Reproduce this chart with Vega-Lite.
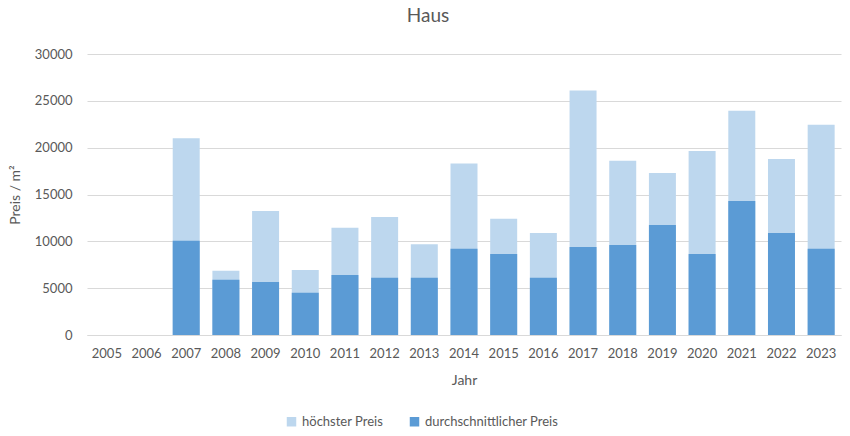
{
  "$schema": "https://vega.github.io/schema/vega-lite/v6.json",
  "width": 754,
  "height": 281,
  "autosize": {"type": "none"},
  "padding": {"left": 87, "top": 54, "right": 9, "bottom": 101},
  "background": "white",
  "config": {
    "font": "Lato, Open Sans, sans-serif",
    "view": {"stroke": null}
  },
  "title": {
    "text": "Haus",
    "fontSize": 19,
    "fontWeight": "normal",
    "color": "#595959",
    "offset": 22,
    "dx": -36
  },
  "data": {
    "values": [
      {"Jahr": "2007", "Serie": "höchster Preis", "Preis": 21000},
      {"Jahr": "2008", "Serie": "höchster Preis", "Preis": 6850},
      {"Jahr": "2009", "Serie": "höchster Preis", "Preis": 13250},
      {"Jahr": "2010", "Serie": "höchster Preis", "Preis": 6950},
      {"Jahr": "2011", "Serie": "höchster Preis", "Preis": 11450},
      {"Jahr": "2012", "Serie": "höchster Preis", "Preis": 12600},
      {"Jahr": "2013", "Serie": "höchster Preis", "Preis": 9700},
      {"Jahr": "2014", "Serie": "höchster Preis", "Preis": 18300},
      {"Jahr": "2015", "Serie": "höchster Preis", "Preis": 12400},
      {"Jahr": "2016", "Serie": "höchster Preis", "Preis": 10900},
      {"Jahr": "2017", "Serie": "höchster Preis", "Preis": 26100},
      {"Jahr": "2018", "Serie": "höchster Preis", "Preis": 18600},
      {"Jahr": "2019", "Serie": "höchster Preis", "Preis": 17300},
      {"Jahr": "2020", "Serie": "höchster Preis", "Preis": 19650},
      {"Jahr": "2021", "Serie": "höchster Preis", "Preis": 23950},
      {"Jahr": "2022", "Serie": "höchster Preis", "Preis": 18800},
      {"Jahr": "2023", "Serie": "höchster Preis", "Preis": 22450},
      {"Jahr": "2007", "Serie": "durchschnittlicher Preis", "Preis": 10050},
      {"Jahr": "2008", "Serie": "durchschnittlicher Preis", "Preis": 5900},
      {"Jahr": "2009", "Serie": "durchschnittlicher Preis", "Preis": 5650},
      {"Jahr": "2010", "Serie": "durchschnittlicher Preis", "Preis": 4500},
      {"Jahr": "2011", "Serie": "durchschnittlicher Preis", "Preis": 6400},
      {"Jahr": "2012", "Serie": "durchschnittlicher Preis", "Preis": 6100},
      {"Jahr": "2013", "Serie": "durchschnittlicher Preis", "Preis": 6100},
      {"Jahr": "2014", "Serie": "durchschnittlicher Preis", "Preis": 9200},
      {"Jahr": "2015", "Serie": "durchschnittlicher Preis", "Preis": 8650},
      {"Jahr": "2016", "Serie": "durchschnittlicher Preis", "Preis": 6100},
      {"Jahr": "2017", "Serie": "durchschnittlicher Preis", "Preis": 9400},
      {"Jahr": "2018", "Serie": "durchschnittlicher Preis", "Preis": 9600},
      {"Jahr": "2019", "Serie": "durchschnittlicher Preis", "Preis": 11750},
      {"Jahr": "2020", "Serie": "durchschnittlicher Preis", "Preis": 8650},
      {"Jahr": "2021", "Serie": "durchschnittlicher Preis", "Preis": 14300},
      {"Jahr": "2022", "Serie": "durchschnittlicher Preis", "Preis": 10900},
      {"Jahr": "2023", "Serie": "durchschnittlicher Preis", "Preis": 9200}
    ]
  },
  "mark": {"type": "bar"},
  "encoding": {
    "x": {
      "field": "Jahr",
      "type": "ordinal",
      "scale": {
        "domain": ["2005","2006","2007","2008","2009","2010","2011","2012","2013","2014","2015","2016","2017","2018","2019","2020","2021","2022","2023"],
        "paddingInner": 0.32,
        "paddingOuter": 0.16
      },
      "axis": {
        "title": "Jahr",
        "labelAngle": 0,
        "labelFontSize": 13,
        "labelColor": "#595959",
        "labelPadding": 12,
        "ticks": false,
        "domain": true,
        "domainColor": "#d9d9d9",
        "titleFontSize": 14,
        "titleFontWeight": "normal",
        "titleColor": "#595959",
        "titlePadding": 13
      }
    },
    "y": {
      "field": "Preis",
      "type": "quantitative",
      "stack": null,
      "scale": {"domain": [0, 30000]},
      "axis": {
        "title": "Preis / m²",
        "values": [0, 5000, 10000, 15000, 20000, 25000, 30000],
        "format": "d",
        "labelFontSize": 13,
        "labelColor": "#595959",
        "labelPadding": 15,
        "ticks": false,
        "domain": false,
        "gridColor": "#d9d9d9",
        "titleFontSize": 14,
        "titleFontWeight": "normal",
        "titleColor": "#595959",
        "titlePadding": 12
      }
    },
    "color": {
      "field": "Serie",
      "type": "nominal",
      "scale": {
        "domain": ["höchster Preis", "durchschnittlicher Preis"],
        "range": ["#BDD7EE", "#5B9BD5"]
      },
      "legend": {
        "title": null,
        "orient": "none",
        "direction": "horizontal",
        "legendX": 198,
        "legendY": 361,
        "symbolType": "square",
        "symbolSize": 90,
        "symbolStrokeWidth": 0,
        "labelFontSize": 13,
        "labelColor": "#595959",
        "columnPadding": 24
      }
    }
  }
}
